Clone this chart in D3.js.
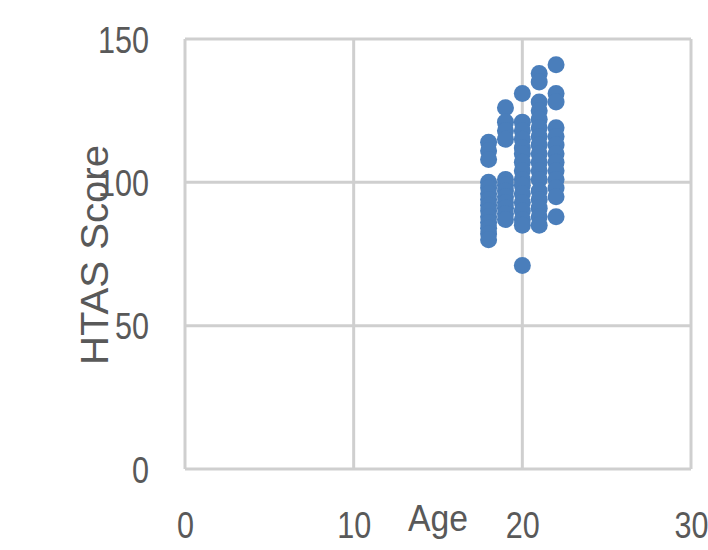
<!DOCTYPE html>
<html>
<head>
<meta charset="utf-8">
<script src="https://cdn.jsdelivr.net/npm/d3@7"></script>
<style>
  body { margin: 0; background: #fff; }
  text { font-family: "Liberation Sans", Arial, sans-serif; fill: #595959; }
</style>
</head>
<body>
<div id="chart"></div>
<script>
// HTAS score by age, one list of scores per age
const ages = [18, 19, 20, 21, 22];
const scores18 = [114, 111, 108, 100, 98, 96, 94, 92, 90, 88, 86, 84, 82, 80];
const scores19 = [126, 121, 118, 115, 101, 99, 97, 95, 93, 91, 89, 87];
const scores20 = [131, 121, 118, 115, 112, 110, 107, 104, 101, 99, 96, 93, 90, 87, 85, 71];
const scores21 = [138, 135, 128, 125, 122, 119, 116, 113, 110, 107, 104, 101, 97, 94, 91, 88, 85];
const scores22 = [141, 131, 128, 119, 116, 113, 110, 107, 104, 101, 98, 95, 88];
const xTicks = [0, 10, 20, 30];
const yTicks = [0, 50, 100, 150];

const scoresByAge = [scores18, scores19, scores20, scores21, scores22];
const data = [];
ages.forEach((a, i) => scoresByAge[i].forEach(s => data.push({age: a, score: s})));

// set the dimensions and margins of the graph
const margin = {top: 39, right: 17, bottom: 81, left: 185},
    width = 708 - margin.left - margin.right,
    height = 550 - margin.top - margin.bottom;

const svg = d3.select("#chart")
  .append("svg")
  .attr("width", 708)
  .attr("height", 550)
  .append("g")
  .attr("transform", `translate(${margin.left},${margin.top})`);

const x = d3.scaleLinear().domain([0, 30]).range([0, width]);
const y = d3.scaleLinear().domain([0, 150]).range([height, 0]);

// grid lines
svg.append("g")
  .selectAll("line")
  .data(xTicks)
  .join("line")
  .attr("x1", d => x(d)).attr("x2", d => x(d))
  .attr("y1", 0).attr("y2", height)
  .attr("stroke", "#cfcfcf").attr("stroke-width", 3);

svg.append("g")
  .selectAll("line")
  .data(yTicks)
  .join("line")
  .attr("y1", d => y(d)).attr("y2", d => y(d))
  .attr("x1", 0).attr("x2", width)
  .attr("stroke", "#cfcfcf").attr("stroke-width", 3);

// X axis labels
const xAxis = d3.axisBottom(x).tickValues(xTicks).tickSize(0);
svg.append("g")
  .attr("transform", `translate(0,${height})`)
  .call(xAxis)
  .call(g => g.select(".domain").remove())
  .selectAll("text")
  .attr("y", 69)
  .attr("dy", 0)
  .attr("textLength", d => String(d).length * 17)
  .attr("lengthAdjust", "spacingAndGlyphs")
  .style("font-size", "37px")
  .style("font-family", null);

// Y axis labels
const yAxis = d3.axisLeft(y).tickValues(yTicks).tickSize(0).tickPadding(36);
svg.append("g")
  .call(yAxis)
  .call(g => g.select(".domain").remove())
  .selectAll("text")
  .attr("dy", "0.36em")
  .attr("textLength", d => String(d).length * 17)
  .attr("lengthAdjust", "spacingAndGlyphs")
  .style("font-size", "37px")
  .style("font-family", null);

svg.selectAll(".tick text").attr("fill", "#595959");

// points
svg.append("g")
  .selectAll("circle")
  .data(data)
  .join("circle")
  .attr("cx", d => x(d.age))
  .attr("cy", d => y(d.score))
  .attr("r", 8.5)
  .attr("fill", "#4a7ebb");

// axis titles
svg.append("text")
  .attr("x", 438 - margin.left)
  .attr("y", 531 - margin.top)
  .attr("text-anchor", "middle")
  .attr("textLength", 60)
  .attr("lengthAdjust", "spacingAndGlyphs")
  .style("font-size", "36px")
  .text("Age");

svg.append("text")
  .attr("transform", `translate(${108 - margin.left},${255 - margin.top}) rotate(-90)`)
  .attr("text-anchor", "middle")
  .style("font-size", "39px")
  .attr("textLength", 220)
  .attr("lengthAdjust", "spacingAndGlyphs")
  .text("HTAS Score");
</script>
</body>
</html>
